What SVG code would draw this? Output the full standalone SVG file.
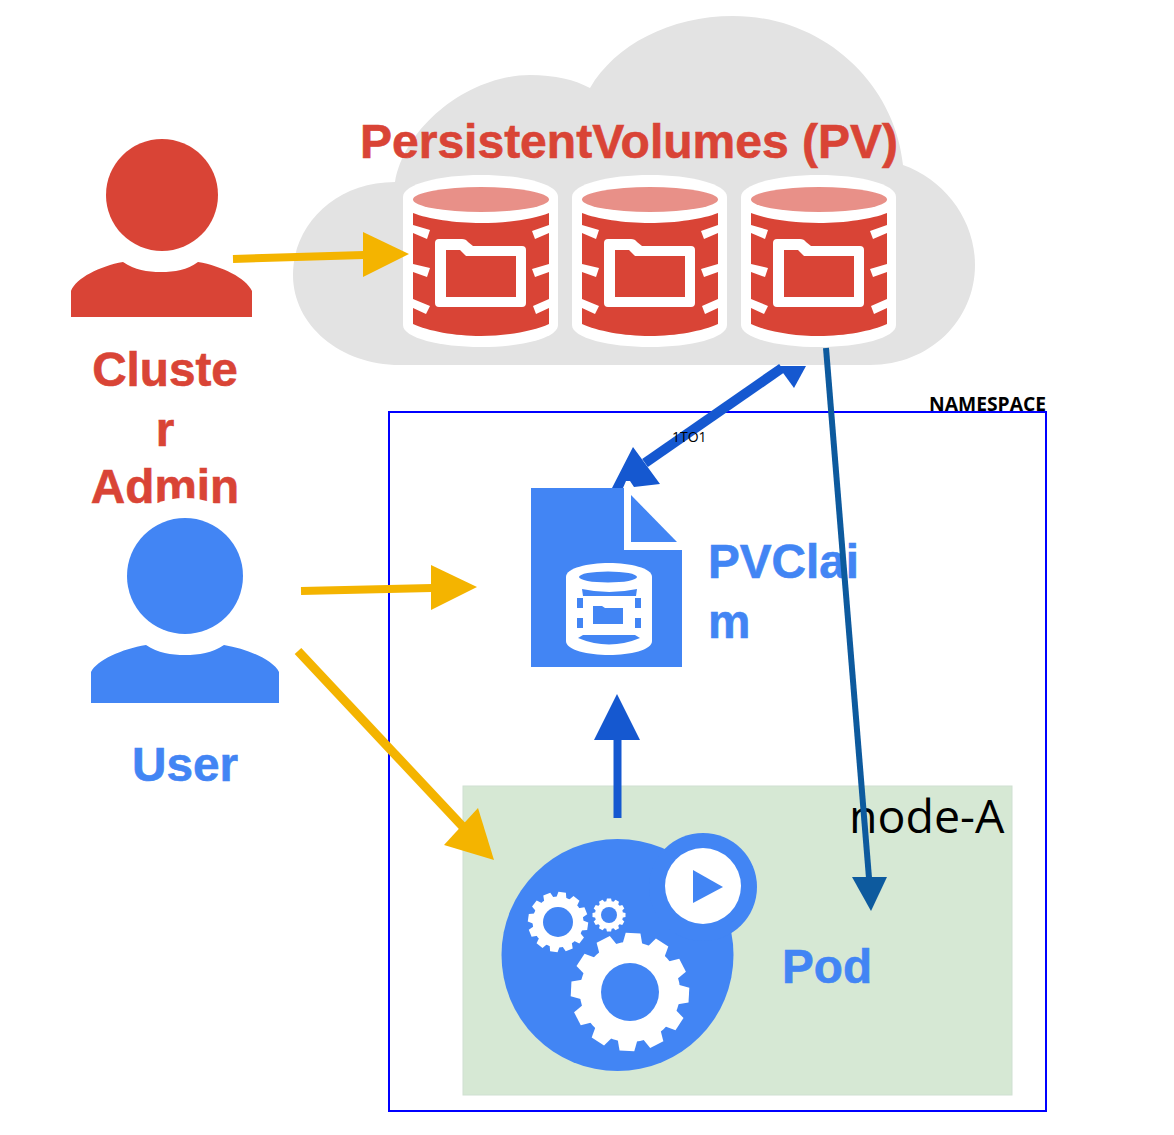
<svg xmlns="http://www.w3.org/2000/svg" xmlns:xlink="http://www.w3.org/1999/xlink" width="1174" height="1135" viewBox="0 0 1174 1135">
<style>
.lbl{font-family:"Liberation Sans",Arial,sans-serif;font-weight:700;font-size:47.700px;stroke-width:.6px}
.red{fill:#d94436}
.lbl.red{stroke:#d94436}
.blue{fill:#4285f4}
.lbl.blue{stroke:#4285f4}
.white{fill:#fff}
.os{font-family:"Open Sans","Noto Sans",sans-serif;fill:#000}
.mid{text-anchor:middle}
.yl{stroke:#f4b400;stroke-width:8;fill:none}
.yh{fill:#f4b400}
.bl{stroke:#1558d0;stroke-width:8;fill:none}
.bh{fill:#1558d0}
.dk{stroke:#0d5a9e;stroke-width:6;fill:none}
.dh{fill:#0d5a9e}
</style>
<defs>
<g id="cyl">
<path class="white" d="M403,197C403,184 440,175 481,175C522,175 558,184 558,197V325C558,338 522,347 481,347C440,347 403,338 403,325Z"/>
<ellipse cx="481" cy="199.500" rx="68" ry="12.500" fill="#e89088"/>
<path class="red" d="M413,213C428,219 455,223 481,223C507,223 534,219 549,213V324C534,331 507,336 481,336C455,336 428,331 413,324Z"/>
<g class="white">
<path d="M413,225L430,230L427,239L413,233ZM413,264L430,268L427,277L413,272ZM413,299L430,306L426,314L413,308Z"/>
<path d="M549,225L532,231L535,239L549,233ZM549,264L532,269L535,277L549,272ZM549,299L533,306L536,314L549,308Z"/>
<path d="M435,243Q435,239 439,239H462Q466,239 468,242L473,246H522Q526,246 526,250V303Q526,307 522,307H439Q435,307 435,303Z"/>
</g>
<path class="red" d="M446,250H460L466,256H516V297H446Z"/>
</g>
<path id="tooth" d="M-12.500,-100H12.500L17,-80H-17Z"/>
<g id="gear">
<circle r="85"/>
<use xlink:href="#tooth" href="#tooth"/>
<use xlink:href="#tooth" href="#tooth" transform="rotate(30)"/>
<use xlink:href="#tooth" href="#tooth" transform="rotate(60)"/>
<use xlink:href="#tooth" href="#tooth" transform="rotate(90)"/>
<use xlink:href="#tooth" href="#tooth" transform="rotate(120)"/>
<use xlink:href="#tooth" href="#tooth" transform="rotate(150)"/>
<use xlink:href="#tooth" href="#tooth" transform="rotate(180)"/>
<use xlink:href="#tooth" href="#tooth" transform="rotate(210)"/>
<use xlink:href="#tooth" href="#tooth" transform="rotate(240)"/>
<use xlink:href="#tooth" href="#tooth" transform="rotate(270)"/>
<use xlink:href="#tooth" href="#tooth" transform="rotate(300)"/>
<use xlink:href="#tooth" href="#tooth" transform="rotate(330)"/>
</g>
</defs>
<g id="cloud">
<path fill="#e3e3e3" d="M400,365C340,365 293,325 293,275C293,225 335,182 395,182C405,125 470,75 530,75C555,75 575,80 590,88C615,45 670,16 733,16C825,16 895,85 903,165C945,180 975,220 975,265C975,320 930,365 870,365Z"/>
</g>
<g id="namespace">
<rect x="389" y="412" width="657" height="699" fill="none" stroke="#0000ff" stroke-width="2"/>
<text class="os" x="929" y="411" font-size="19.300" font-weight="700">NAMESPACE</text>
</g>
<g id="node-A">
<rect x="463" y="786" width="549" height="309" fill="#d6e8d4" stroke="#cfe0d2" stroke-width="1"/>
<text class="os" x="849" y="833" font-size="46.500">node-A</text>
</g>
<g id="pv">
<use xlink:href="#cyl" href="#cyl"/>
<use xlink:href="#cyl" href="#cyl" x="169"/>
<use xlink:href="#cyl" href="#cyl" x="338"/>
<text class="lbl red" x="360" y="158" textLength="538" lengthAdjust="spacingAndGlyphs">PersistentVolumes (PV)</text>
</g>
<g id="cluster-admin">
<circle class="red" cx="162" cy="195" r="56"/>
<path class="red" d="M71,317V291C76,278 100,266 123,262C135,270 147,272 161,272C175,272 187,270 198,262C222,266 246,278 252,291V317Z"/>
<text class="lbl red mid" x="165" y="386">Cluste</text>
<text class="lbl red mid" x="165" y="446">r</text>
<text class="lbl red mid" x="165" y="503">Admin</text>
</g>
<g id="user">
<circle class="white" cx="185" cy="576" r="78"/>
<circle class="blue" cx="185" cy="576" r="58"/>
<path class="blue" d="M91,703V672C97,660 122,649 146,645C158,653 171,655 185,655C199,655 212,653 224,645C248,649 273,660 279,672V703Z"/>
<text class="lbl blue mid" x="185" y="781">User</text>
</g>
<g id="pvclaim">
<path class="blue" d="M531,488H624V550H682V667H531Z"/>
<path class="blue" d="M631,495L677,542H631Z"/>
<path class="white" d="M566,577C566,568 588,563 609,563C630,563 652,568 652,577V641C652,650 630,655 609,655C588,655 566,650 566,641Z"/>
<ellipse class="blue" cx="608" cy="577" rx="29" ry="5.500"/>
<path class="blue" d="M582,589Q609,595 637,589L636,596H583Z"/>
<path class="blue" d="M577,598h6v10h-6ZM577,618h6v10h-6ZM635,598h6v10h-6ZM635,618h6v10h-6Z"/>
<path class="blue" d="M578,638L583,635H635L640,638Q609,651 578,638Z"/>
<path class="blue" d="M593,606H602L605,608H623V624H593Z"/>
<text class="lbl blue" x="708" y="578">PVClai</text>
<text class="lbl blue" x="708" y="638">m</text>
</g>
<g id="pod">
<circle class="blue" cx="617.500" cy="955" r="116"/>
<circle class="blue" cx="703" cy="887" r="54"/>
<circle class="white" cx="703" cy="886" r="38"/>
<path class="blue" d="M693,870L723,887L693,903Z"/>
<use xlink:href="#gear" href="#gear" class="white" transform="translate(630,992) rotate(3) scale(.59)"/>
<circle class="blue" cx="630" cy="992" r="29"/>
<use xlink:href="#gear" href="#gear" class="white" transform="translate(558,922) rotate(8) scale(.3)"/>
<circle class="blue" cx="558" cy="922" r="15"/>
<use xlink:href="#gear" href="#gear" class="white" transform="translate(609,915) scale(.165)"/>
<circle class="blue" cx="609" cy="915" r="8"/>
<text class="lbl blue" x="782" y="983">Pod</text>
</g>
<g id="connectors">
<path class="yl" d="M233,259L364,255"/>
<path class="yh" d="M363,232L409,254L363,277Z"/>
<path class="yl" d="M301,591L432,588"/>
<path class="yh" d="M431,565L477,587L431,610Z"/>
<path class="yl" style="stroke-width:9" d="M298,651L465,829"/>
<path class="yh" d="M494,860L444,845L478,808Z"/>
<path class="bl" style="stroke-width:10" d="M645,463L782,368"/>
<path class="bh" d="M778,366H806L794,388Z"/>
<path class="bh" d="M633,447L660,484L634,487L630,481L626,481L623,488L612,488Z"/>
<path class="bl" d="M617.500,818V740"/>
<path class="bh" d="M594,740H640L617,694Z"/>
<path class="dk" d="M826,348L869,878"/>
<path class="dh" d="M852,877H887L871,911Z"/>
<text class="os" x="672" y="442" font-size="14">1TO1</text>
</g>
</svg>
